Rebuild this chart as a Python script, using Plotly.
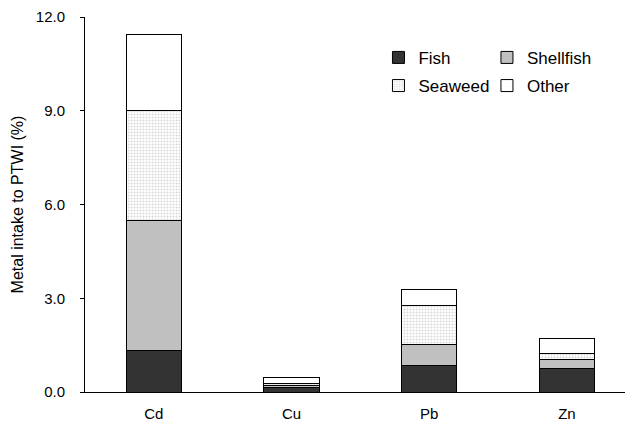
import plotly.graph_objects as go

metals = ["Cd", "Cu", "Pb", "Zn"]
fish = [1.34, 0.13, 0.86, 0.76]
shellfish = [4.16, 0.09, 0.67, 0.28]
seaweed = [3.52, 0.06, 1.23, 0.20]
other = [2.42, 0.18, 0.52, 0.48]
y_ticks = [0, 3, 6, 9, 12]

FONT = "Liberation Sans, Arial, sans-serif"

fig = go.Figure()
common = dict(width=0.4)
fig.add_trace(go.Bar(x=metals, y=fish, name="Fish", legend="legend", showlegend=True,
                     marker=dict(color="#333333", line=dict(color="black", width=1)), **common))
fig.add_trace(go.Bar(x=metals, y=shellfish, name="Shellfish", legend="legend2", showlegend=True,
                     marker=dict(color="#c0c0c0", line=dict(color="black", width=1)), **common))
fig.add_trace(go.Bar(x=metals, y=seaweed, name="Seaweed", legend="legend3", showlegend=True,
                     marker=dict(color="white", line=dict(color="black", width=1),
                                 pattern=dict(shape=".", fgcolor="#b0b0b0", bgcolor="white",
                                              size=3, solidity=0.35)), **common))
fig.add_trace(go.Bar(x=metals, y=other, name="Other", legend="legend4", showlegend=True,
                     marker=dict(color="white", line=dict(color="black", width=1)), **common))

def leg(x, y):
    return dict(x=x, y=y, xref="paper", yref="paper", xanchor="left", yanchor="middle",
                bgcolor="rgba(0,0,0,0)", font=dict(family=FONT, size=17, color="black"))

fig.update_layout(
    barmode="stack",
    showlegend=True,
    width=625, height=420,
    margin=dict(l=77, r=0, t=9, b=36, autoexpand=False),
    paper_bgcolor="white", plot_bgcolor="white",
    font=dict(family=FONT, size=15, color="black"),
    legend=leg(0.5355, 0.891),
    legend2=leg(0.7335, 0.891),
    legend3=leg(0.5355, 0.816),
    legend4=leg(0.7335, 0.816),
    xaxis=dict(range=[-0.5, 3.48], showline=True, linecolor="black", linewidth=1,
               ticks="", showgrid=False, zeroline=False, ticklabelstandoff=8,
               automargin=False, tickfont=dict(family=FONT, size=15)),
    yaxis=dict(range=[0, 12], tickvals=y_ticks, tickformat=".1f", showline=True,
               linecolor="black", linewidth=1, ticks="outside", ticklen=4, tickcolor="black",
               showgrid=False, zeroline=False, ticklabelstandoff=12, automargin=False,
               tickfont=dict(family=FONT, size=15),
               title=dict(text="Metal intake to PTWI (%)", standoff=8,
                          font=dict(family=FONT, size=16))),
)

fig.write_html("out.html")
